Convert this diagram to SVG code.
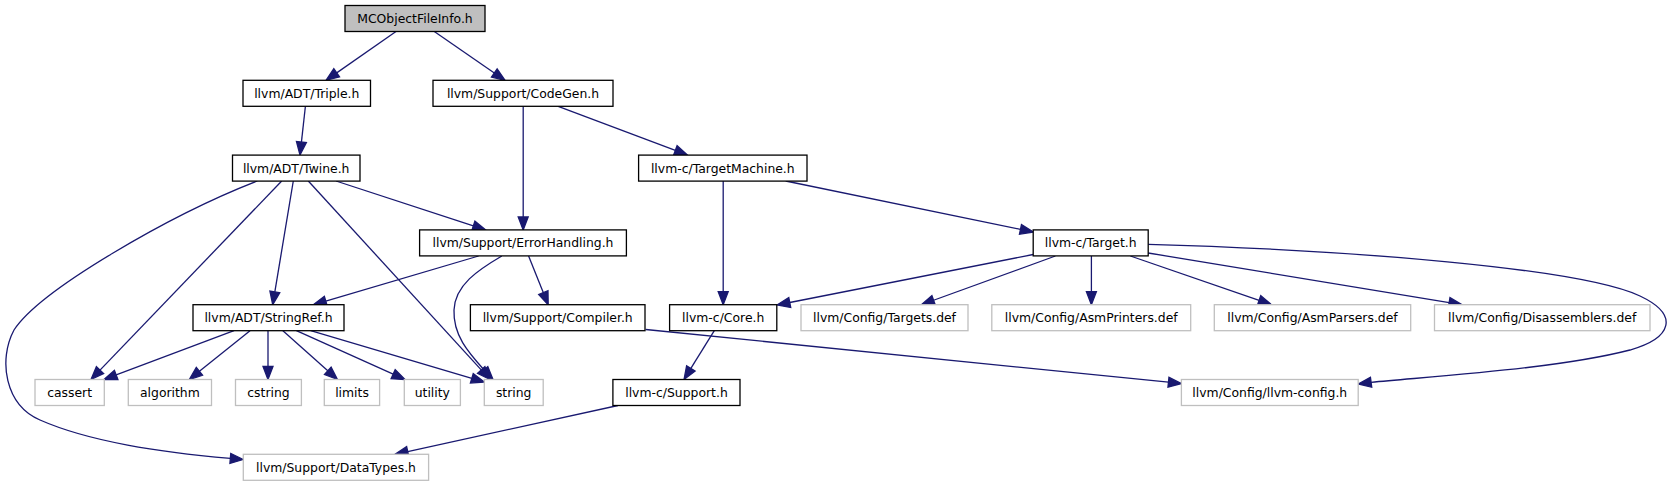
<svg xmlns="http://www.w3.org/2000/svg" width="1673" height="485" viewBox="0 0 1673 485">
<style>
.n rect{fill:#fff;stroke:#000;stroke-width:1.3}
.n.root rect{fill:#bfbfbf}
.n.ext rect{stroke:#bfbfbf}
.n text{font-family:"DejaVu Sans",sans-serif;font-size:12.4px;text-anchor:middle;fill:#000}
.e path{fill:none;stroke:#191970;stroke-width:1.3}
.e polygon{fill:#191970;stroke:#191970;stroke-width:1.3}
</style>
<rect width="1673" height="485" fill="#fff"/>
<g id="edges" class="e">
<path d="M396,31.5L336.67,72.86"/><polygon points="326,80.3 333.81,68.76 339.53,76.96"/>
<path d="M434.3,31.5L494.3,72.91"/><polygon points="505,80.3 491.46,77.03 497.14,68.79"/>
<path d="M305.4,106.3L301.43,142.08"/><polygon points="300,155 296.46,141.53 306.4,142.63"/>
<path d="M523.2,106.3L523.2,217"/><polygon points="523.2,230 518.2,217 528.2,217"/>
<path d="M558.2,106.3L675.34,150.42"/><polygon points="687.5,155 673.58,155.1 677.1,145.74"/>
<path d="M336,181L473.34,225.96"/><polygon points="485.7,230 471.78,230.71 474.9,221.21"/>
<path d="M293.3,181L274.84,291.88"/><polygon points="272.7,304.7 269.91,291.06 279.77,292.7"/>
<path d="M281.7,181L100.01,370.13"/><polygon points="91,379.5 96.4,366.67 103.62,373.59"/>
<path d="M308.3,181L481.22,369.91"/><polygon points="490,379.5 477.53,373.29 484.91,366.53"/>
<path d="M257.3,181C170,215 40,290 14,330C-2,360 5,405 40,420C90,442 160,452 230.34,458.43"/><polygon points="243.3,459.5 229.93,463.41 230.75,453.45"/>
<path d="M478.6,256L325.77,301.03"/><polygon points="313.3,304.7 324.36,296.23 327.18,305.83"/>
<path d="M528.6,256L543.35,292.64"/><polygon points="548.2,304.7 538.71,294.51 547.99,290.77"/>
<path d="M501.8,256C478,270 455,285 454,310C453,335 468,352 484.14,369.99"/><polygon points="493,379.5 480.48,373.4 487.8,366.58"/>
<path d="M234,330.7L116.17,374.93"/><polygon points="104,379.5 114.41,370.25 117.93,379.61"/>
<path d="M250,330.7L199.43,371.36"/><polygon points="189.3,379.5 196.3,367.46 202.56,375.26"/>
<path d="M268,330.7L268,366.5"/><polygon points="268,379.5 263,366.5 273,366.5"/>
<path d="M282.9,330.7L327.8,370.83"/><polygon points="337.5,379.5 324.47,374.56 331.13,367.1"/>
<path d="M296.4,330.7L393.15,374.17"/><polygon points="405,379.5 391.1,378.73 395.2,369.61"/>
<path d="M310.7,330.7L471.83,378.32"/><polygon points="484.3,382 470.41,383.12 473.25,373.52"/>
<path d="M723.2,181L723.2,291.7"/><polygon points="723.2,304.7 718.2,291.7 728.2,291.7"/>
<path d="M785.7,181L1020.47,229.38"/><polygon points="1033.2,232 1019.46,234.28 1021.48,224.48"/>
<path d="M1033.2,254.5L789.76,302.49"/><polygon points="777,305 788.79,297.58 790.73,307.4"/>
<path d="M1055.4,256L933.62,300.26"/><polygon points="921.4,304.7 931.91,295.56 935.33,304.96"/>
<path d="M1091.4,256L1091.4,291.7"/><polygon points="1091.4,304.7 1086.4,291.7 1096.4,291.7"/>
<path d="M1130.4,256L1259.11,300.46"/><polygon points="1271.4,304.7 1257.48,305.19 1260.74,295.73"/>
<path d="M1148.2,253L1449.17,302.59"/><polygon points="1462,304.7 1448.36,307.52 1449.98,297.66"/>
<path d="M1148.2,244.3C1350,250 1580,268 1640,296C1680,315 1672,338 1630,350C1560,368 1450,375 1371.09,382.31"/><polygon points="1358.2,384 1370.44,377.35 1371.74,387.27"/>
<path d="M645.7,329.5L1168.46,382.2"/><polygon points="1181.4,383.5 1167.96,387.18 1168.96,377.22"/>
<path d="M714.3,330.7L690.86,368.45"/><polygon points="684,379.5 686.61,365.81 695.11,371.09"/>
<path d="M618,405.5L407.7,451.52"/><polygon points="395,454.3 406.63,446.64 408.77,456.4"/>
</g>
<g id="n_mcobjectfileinfo" class="n root"><rect x="345" y="5.5" width="140" height="26"/><text x="415" y="23">MCObjectFileInfo.h</text></g>
<g id="n_triple" class="n"><rect x="243" y="80.3" width="127.5" height="26"/><text x="306.8" y="97.8">llvm/ADT/Triple.h</text></g>
<g id="n_codegen" class="n"><rect x="433" y="80.3" width="180" height="26"/><text x="523" y="97.8">llvm/Support/CodeGen.h</text></g>
<g id="n_twine" class="n"><rect x="232.5" y="155.1" width="127.5" height="26"/><text x="296.2" y="172.6">llvm/ADT/Twine.h</text></g>
<g id="n_targetmachine" class="n"><rect x="638.6" y="155.1" width="168.4" height="26"/><text x="722.8" y="172.6">llvm-c/TargetMachine.h</text></g>
<g id="n_errorhandling" class="n"><rect x="419.6" y="229.9" width="206.8" height="26"/><text x="523" y="247.4">llvm/Support/ErrorHandling.h</text></g>
<g id="n_target" class="n"><rect x="1033.2" y="229.9" width="115" height="26"/><text x="1090.7" y="247.4">llvm-c/Target.h</text></g>
<g id="n_stringref" class="n"><rect x="193" y="304.7" width="151" height="26"/><text x="268.5" y="322.2">llvm/ADT/StringRef.h</text></g>
<g id="n_compiler" class="n"><rect x="470.4" y="304.7" width="174.6" height="26"/><text x="557.7" y="322.2">llvm/Support/Compiler.h</text></g>
<g id="n_core" class="n"><rect x="669.6" y="304.7" width="107.2" height="26"/><text x="723.2" y="322.2">llvm-c/Core.h</text></g>
<g id="n_targetsdef" class="n ext"><rect x="801" y="304.7" width="167" height="26"/><text x="884.5" y="322.2">llvm/Config/Targets.def</text></g>
<g id="n_asmprinters" class="n ext"><rect x="991.8" y="304.7" width="198.9" height="26"/><text x="1091.2" y="322.2">llvm/Config/AsmPrinters.def</text></g>
<g id="n_asmparsers" class="n ext"><rect x="1214.3" y="304.7" width="196.4" height="26"/><text x="1312.5" y="322.2">llvm/Config/AsmParsers.def</text></g>
<g id="n_disassemblers" class="n ext"><rect x="1434.5" y="304.7" width="215.5" height="26"/><text x="1542.2" y="322.2">llvm/Config/Disassemblers.def</text></g>
<g id="n_cassert" class="n ext"><rect x="35" y="379.5" width="69.3" height="26"/><text x="69.6" y="397">cassert</text></g>
<g id="n_algorithm" class="n ext"><rect x="128.3" y="379.5" width="83.2" height="26"/><text x="169.9" y="397">algorithm</text></g>
<g id="n_cstring" class="n ext"><rect x="235.5" y="379.5" width="65.9" height="26"/><text x="268.5" y="397">cstring</text></g>
<g id="n_limits" class="n ext"><rect x="324.3" y="379.5" width="55.3" height="26"/><text x="352" y="397">limits</text></g>
<g id="n_utility" class="n ext"><rect x="404.3" y="379.5" width="56.1" height="26"/><text x="432.3" y="397">utility</text></g>
<g id="n_string" class="n ext"><rect x="484.3" y="379.5" width="58.9" height="26"/><text x="513.7" y="397">string</text></g>
<g id="n_support" class="n"><rect x="612.9" y="379.5" width="127.1" height="26"/><text x="676.5" y="397">llvm-c/Support.h</text></g>
<g id="n_llvmconfig" class="n ext"><rect x="1181.4" y="379.5" width="176.8" height="26"/><text x="1269.8" y="397">llvm/Config/llvm-config.h</text></g>
<g id="n_datatypes" class="n ext"><rect x="243.3" y="454.3" width="185.3" height="26"/><text x="336" y="471.8">llvm/Support/DataTypes.h</text></g>
</svg>
